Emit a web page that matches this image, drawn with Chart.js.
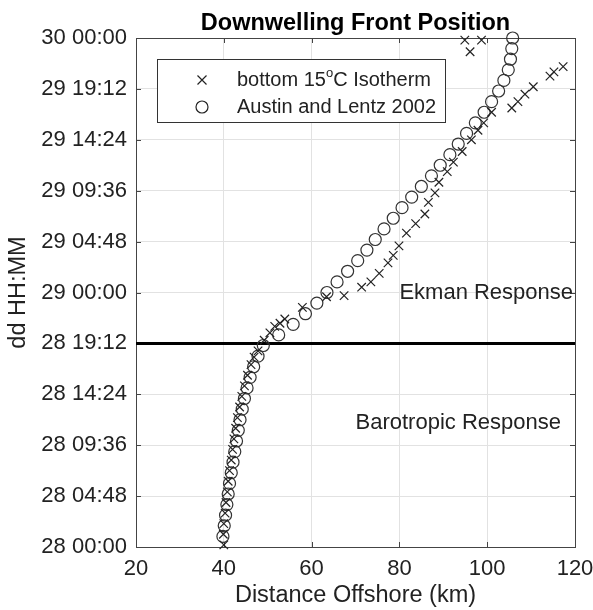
<!DOCTYPE html>
<html>
<head>
<meta charset="utf-8">
<script src="https://cdn.jsdelivr.net/npm/chart.js@4.4.1/dist/chart.umd.min.js"></script>
<style>
  html, body { margin: 0; padding: 0; background: #fff; }
</style>
</head>
<body>
<canvas id="frontChart" width="593" height="610"></canvas>
<script>
// values; times are hours after 28 00:00
const chartTitle = 'Downwelling Front Position';
const xTicks = [20, 40, 60, 80, 100, 120];
const yTickHours = [0, 4.8, 9.6, 14.4, 19.2, 24, 28.8, 33.6, 38.4, 43.2, 48];
const yTickLabels = ['28 00:00', '28 04:48', '28 09:36', '28 14:24', '28 19:12', '29 00:00',
  '29 04:48', '29 09:36', '29 14:24', '29 19:12', '30 00:00'];

const austinHours = [1, 2, 3, 4, 5, 6, 7, 8, 9, 10, 11, 12, 13, 14, 15, 16, 17, 18, 19, 20, 21, 22, 23, 24,
  25, 26, 27, 28, 29, 30, 31, 32, 33, 34, 35, 36, 37, 38, 39, 40, 41, 42, 43, 44, 45, 46, 47, 48];
const austinKm = [39.8, 40.1, 40.4, 40.7, 41.0, 41.3, 41.7, 42.1, 42.5, 42.9, 43.3, 43.7, 44.2, 44.7, 45.3, 46.0,
  46.8, 47.8, 49.0, 52.5, 55.8, 58.6, 61.2, 63.5, 65.8, 68.2, 70.5, 72.6, 74.5, 76.5, 78.6, 80.6,
  82.8, 85.0, 87.3, 89.3, 91.5, 93.4, 95.3, 97.3, 99.3, 101.0, 102.6, 103.8, 104.8, 105.3, 105.6, 105.8];

const isothermHours = [0.2, 1.2, 2.2, 3.2, 4.2, 5.2, 6.2, 7.2, 8.2, 9.2, 10.2, 11.2, 12.2, 13.2, 14.2, 15.2,
  16.2, 17.2, 17.9, 18.5, 19.5, 20.2, 20.8, 21.1, 21.5, 22.6, 23.6, 23.7, 24.5, 25.0, 25.8, 26.8,
  27.5, 28.4, 29.6, 30.5, 31.4, 32.5, 33.4, 34.4, 35.4, 36.3, 37.3, 38.4, 39.3, 40.0, 41.0,
  41.4, 42.0, 42.7, 43.4, 44.4, 44.8, 45.3, 46.7, 47.8, 47.8];
const isothermKm = [40.0, 39.9, 40.0, 40.3, 40.5, 40.8, 41.0, 41.3, 41.7, 42.0, 42.3, 42.7, 43.1, 43.6, 44.1, 44.7,
  45.4, 46.2, 46.9, 47.8, 49.2, 50.5, 51.6, 52.8, 53.9, 57.9, 63.4, 67.4, 71.4, 73.5, 75.4, 77.4,
  78.6, 79.9, 81.6, 83.7, 85.8, 86.6, 88.1, 89.0, 90.9, 92.3, 94.3, 96.4, 97.9, 99.2, 101.0,
  105.6, 107.0, 108.6, 110.5, 114.3, 115.2, 117.3, 96.1, 94.9, 98.7];

const regimeBreakHour = 19.2;

const FONT = "'Liberation Sans', Arial, Helvetica, sans-serif";
const INK = '#222';

const toPoints = (xs, ys) => xs.map((x, i) => ({ x: x, y: ys[i] }));

// box, inward ticks, title, legend and the two labels (matlab look)
const matlabBits = {
  id: 'matlabBits',
  beforeDatasetsDraw(chart) {
    const { ctx, chartArea: a, scales } = chart;
    ctx.save();
    ctx.strokeStyle = '#444';
    ctx.lineWidth = 1;
    ctx.beginPath();
    xTicks.forEach(v => {
      const px = Math.round(scales.x.getPixelForValue(v)) + 0.5;
      ctx.moveTo(px, a.bottom); ctx.lineTo(px, a.bottom - 5);
      ctx.moveTo(px, a.top); ctx.lineTo(px, a.top + 5);
    });
    yTickHours.forEach(v => {
      const py = Math.round(scales.y.getPixelForValue(v)) + 0.5;
      ctx.moveTo(a.left, py); ctx.lineTo(a.left + 5, py);
      ctx.moveTo(a.right, py); ctx.lineTo(a.right - 5, py);
    });
    ctx.stroke();
    ctx.strokeRect(Math.round(a.left) + 0.5, Math.round(a.top) + 0.5,
      Math.round(a.right - a.left), Math.round(a.bottom - a.top));
    ctx.restore();
  },
  afterDraw(chart) {
    const { ctx, chartArea: a, scales } = chart;
    ctx.save();
    ctx.fillStyle = '#000';
    ctx.textAlign = 'center';
    ctx.textBaseline = 'alphabetic';
    ctx.font = 'bold 23.5px ' + FONT;
    ctx.fillText(chartTitle, (a.left + a.right) / 2, 30);

    // regime labels
    ctx.fillStyle = INK;
    ctx.font = '22px ' + FONT;
    ctx.textAlign = 'left';
    ctx.textBaseline = 'middle';
    ctx.fillText('Ekman Response', scales.x.getPixelForValue(80), scales.y.getPixelForValue(24));
    ctx.fillText('Barotropic Response', scales.x.getPixelForValue(70), scales.y.getPixelForValue(11.7));

    // legend
    const lx = 157.5, ly = 59.5, lw = 288, lh = 63;
    ctx.fillStyle = '#fff';
    ctx.fillRect(lx, ly, lw, lh);
    ctx.strokeStyle = '#333';
    ctx.lineWidth = 1;
    ctx.strokeRect(lx, ly, lw, lh);

    const mx = 202, r1 = 80, r2 = 107;
    ctx.strokeStyle = INK;
    ctx.lineWidth = 1.2;
    ctx.beginPath();
    ctx.moveTo(mx - 4.5, r1 - 4.5); ctx.lineTo(mx + 4.5, r1 + 4.5);
    ctx.moveTo(mx + 4.5, r1 - 4.5); ctx.lineTo(mx - 4.5, r1 + 4.5);
    ctx.stroke();
    ctx.beginPath();
    ctx.arc(mx, r2, 6, 0, Math.PI * 2);
    ctx.stroke();

    ctx.fillStyle = INK;
    ctx.font = '20px ' + FONT;
    let tx = 237;
    ctx.fillText('bottom 15', tx, r1);
    tx += ctx.measureText('bottom 15').width;
    ctx.font = '13px ' + FONT;
    ctx.fillText('o', tx, r1 - 7);
    tx += ctx.measureText('o').width;
    ctx.font = '20px ' + FONT;
    ctx.fillText('C Isotherm', tx, r1);
    ctx.fillText('Austin and Lentz 2002', 237, r2);
    ctx.restore();
  }
};

new Chart(document.getElementById('frontChart'), {
  type: 'scatter',
  data: {
    datasets: [
      {
        label: 'bottom 15°C Isotherm',
        data: toPoints(isothermKm, isothermHours),
        pointStyle: 'crossRot',
        pointRadius: 6,
        borderColor: INK,
        borderWidth: 1.2,
        clip: false
      },
      {
        label: 'Austin and Lentz 2002',
        data: toPoints(austinKm, austinHours),
        pointStyle: 'circle',
        pointRadius: 6,
        borderColor: '#333',
        backgroundColor: 'rgba(0,0,0,0)',
        borderWidth: 1.2,
        clip: false
      },
      {
        type: 'line',
        label: 'break',
        data: [{ x: xTicks[0], y: regimeBreakHour }, { x: xTicks[xTicks.length - 1], y: regimeBreakHour }],
        borderColor: '#000',
        borderWidth: 3,
        pointRadius: 0
      }
    ]
  },
  options: {
    responsive: false,
    animation: false,
    layout: { padding: { left: 0, right: 18, top: 38, bottom: 0 } },
    plugins: {
      legend: { display: false },
      tooltip: { enabled: false }
    },
    scales: {
      x: {
        type: 'linear',
        min: 20,
        max: 120,
        afterBuildTicks: s => { s.ticks = xTicks.map(v => ({ value: v })); },
        afterFit: s => { s.height = 63; s.paddingLeft = 0; s.paddingRight = 0; },
        grid: { color: '#e2e2e2', drawTicks: false },
        border: { display: false },
        ticks: { font: { family: FONT, size: 22 }, color: INK, padding: 9, autoSkip: false, maxRotation: 0 },
        title: { display: true, text: 'Distance Offshore (km)', font: { family: FONT, size: 23.5 }, color: INK, padding: { top: 0, bottom: 0 } }
      },
      y: {
        type: 'linear',
        min: 0,
        max: 48,
        afterBuildTicks: s => { s.ticks = yTickHours.map(v => ({ value: v })); },
        afterFit: s => { s.width = 136; s.paddingTop = 0; s.paddingBottom = 0; },
        grid: { color: '#e2e2e2', drawTicks: false },
        border: { display: false },
        ticks: {
          font: { family: FONT, size: 22 }, color: INK, padding: 9, autoSkip: false,
          callback: v => yTickLabels[yTickHours.indexOf(v)]
        },
        title: { display: true, text: 'dd HH:MM', font: { family: FONT, size: 23.5 }, color: INK, padding: { top: 4, bottom: 0 } }
      }
    }
  },
  plugins: [matlabBits]
});
</script>
</body>
</html>
